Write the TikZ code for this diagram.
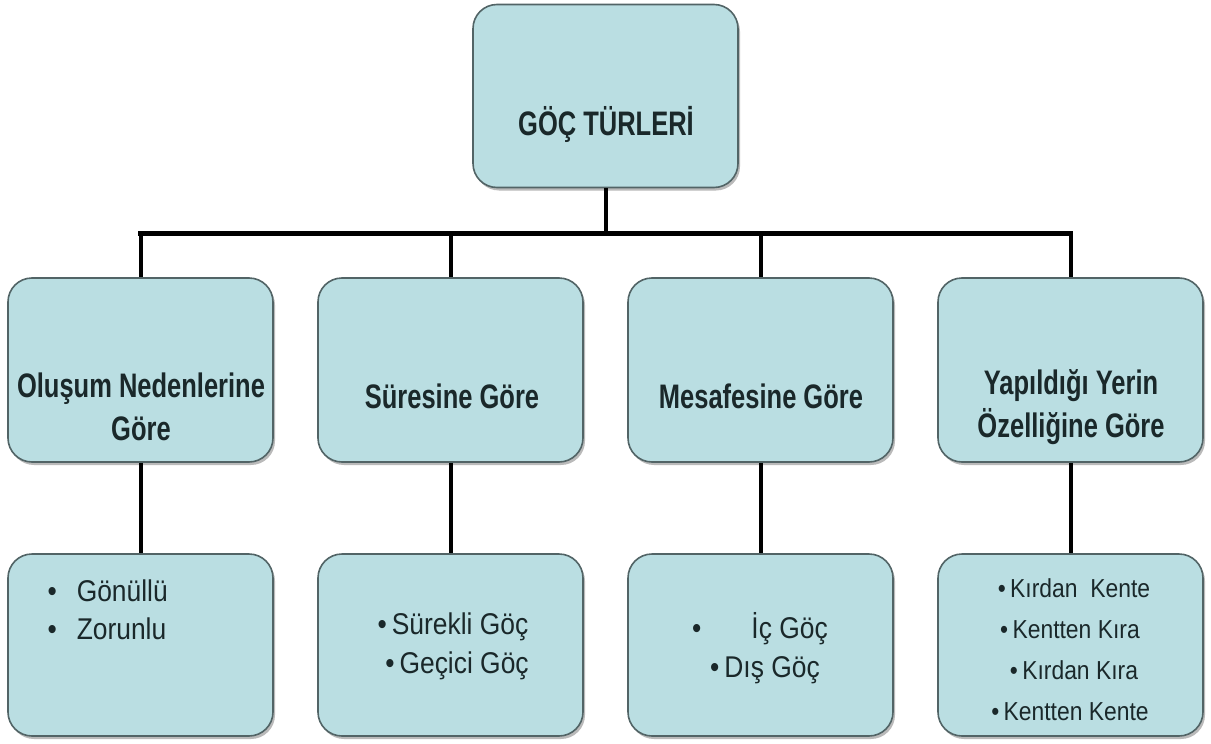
\documentclass[tikz,border=0pt]{standalone}
\usepackage{fontspec}
\setmainfont{Liberation Sans}
\newfontfamily\headfont[FakeStretch=0.75]{Liberation Sans}
\newfontfamily\bodyfont[FakeStretch=0.88]{Liberation Sans}
\usetikzlibrary{shadows}
\definecolor{boxfill}{RGB}{186,222,226}
\definecolor{boxline}{RGB}{82,100,102}
\definecolor{txt}{RGB}{26,40,42}
\tikzset{
  box/.style={draw=boxline, line width=1.6pt, fill=boxfill, rounded corners=24pt,
    minimum width=265pt, minimum height=184pt, inner sep=0pt,
    drop shadow={shadow xshift=2pt, shadow yshift=-3pt, fill=black!45, opacity=0.6}},
  headtxt/.style={text=txt, align=center, font=\headfont\bfseries\fontsize{34}{43}\selectfont},
  bodytxt/.style={text=txt, align=center, font=\bodyfont\fontsize{30}{39}\selectfont},
  smalltxt/.style={text=txt, align=center, font=\bodyfont\fontsize{26}{41}\selectfont},
  conn/.style={draw=black, line width=4pt},
  busline/.style={draw=black, line width=5pt}
}
\begin{document}
\begin{tikzpicture}[x=1pt,y=-1pt]
\useasboundingbox[fill=white] (0,0) rectangle (1211,744);
% boxes
\node[box, minimum height=183pt] (top) at (605.5,96) {};
\node[box] (m1) at (140.5,370) {};
\node[box] (m2) at (450.5,370) {};
\node[box] (m3) at (760.5,370) {};
\node[box] (m4) at (1070.5,370) {};
\node[box, minimum height=182pt] (b1) at (140.5,645) {};
\node[box, minimum height=182pt] (b2) at (450.5,645) {};
\node[box, minimum height=182pt] (b3) at (760.5,645) {};
\node[box, minimum height=182pt] (b4) at (1070.5,645) {};
% texts
\node[headtxt] (ttop) at (606,124) {GÖÇ TÜRLERİ};
\node[headtxt] (tm1) at (141,407) {Oluşum Nedenlerine\\Göre};
\node[headtxt] (tm2) at (452,396) {Süresine Göre};
\node[headtxt] (tm3) at (761,396) {Mesafesine Göre};
\node[headtxt] (tm4) at (1071,407) {Yapıldığı Yerin\\Özelliğine Göre};
\node[bodytxt, anchor=west] (tb1) at (44,613) {\begin{tabular}{@{}l@{\hspace{20pt}}l@{}}•&Gönüllü\\[-1pt]•&Zorunlu\end{tabular}};
\node[bodytxt] (tb2) at (453,646) {•\,Sürekli Göç\\\hspace{8pt}•\,Geçici Göç};
\node[bodytxt] (tb3) at (760,648) {•\hspace{50pt}İç Göç\\\hspace{10pt}•\,Dış Göç};
\node[smalltxt] (tb4) at (1070,650) {\hspace{8pt}•\,Kırdan\ \ Kente\\•\,Kentten Kıra\\\hspace{8pt}•\,Kırdan Kıra\\•\,Kentten Kente};
% connectors
\coordinate (bus) at (0,233);
\draw[conn] (top.south) -- (top.south |- bus);
\draw[busline, line cap=rect] (m1.north |- bus) -- (m4.north |- bus);
\foreach \m in {m1,m2,m3,m4} {\draw[conn] (\m.north |- bus) -- (\m.north);}
\draw[conn] (m1.south) -- (b1.north);
\draw[conn] (m2.south) -- (b2.north);
\draw[conn] (m3.south) -- (b3.north);
\draw[conn] (m4.south) -- (b4.north);
\end{tikzpicture}
\end{document}
